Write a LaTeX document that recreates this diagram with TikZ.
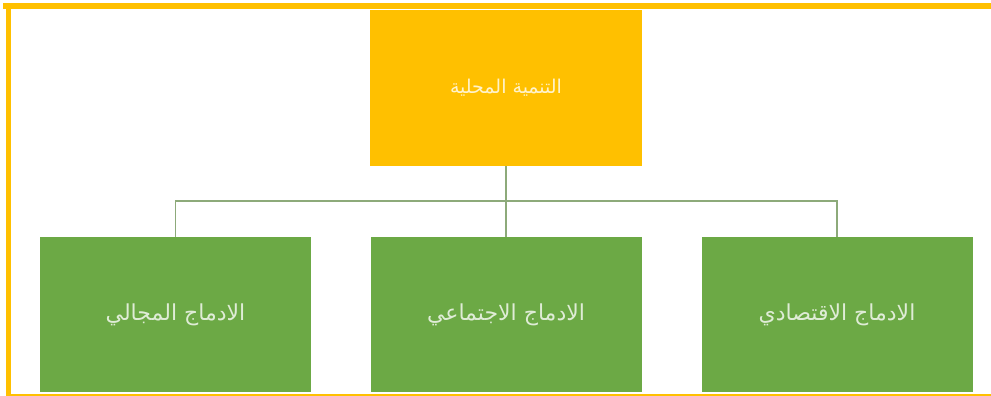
\documentclass[tikz,border=0pt]{standalone}
\usepackage{fontspec}
\newfontfamily\arabicfont[Script=Arabic]{DejaVu Sans}
\TeXXeTstate=1
\definecolor{gold}{HTML}{FFC000}
\definecolor{grn}{HTML}{6CA945}
\definecolor{conn}{HTML}{8DAA7A}
\begin{document}
\begin{tikzpicture}[x=1pt,y=-1pt,
  topbox/.style={fill=gold, draw=none, minimum width=272pt, minimum height=156pt, inner sep=0pt,
    text=white!80!gold, font=\arabicfont\fontsize{19}{22}\selectfont},
  subbox/.style={fill=grn, draw=none, minimum width=271pt, minimum height=155pt, inner sep=0pt,
    text=white!78!grn, font=\arabicfont\fontsize{22}{26}\selectfont},
  connector/.style={draw=conn, line width=1.8pt}]
\useasboundingbox (0,0) rectangle (991,396);
\fill[white] (0,0) rectangle (991,396);
% frame
\fill[gold] (3,3) rectangle (991,9);
\fill[gold] (5.5,3) rectangle (11,396);
\fill[gold] (5.5,394) rectangle (991,396);
% nodes
\node[topbox] (top) at (506,88) {\beginR التنمية المحلية\endR};
\node[subbox] (b1) at (175.5,314.5) {\beginR الادماج المجالي\endR};
\node[subbox] (b2) at (506,314.5) {\beginR الادماج الاجتماعي\endR};
\node[subbox] (b3) at (837,314.5) {\beginR الادماج الاقتصادي\endR};
\coordinate (bus) at (506,201);
% connectors
\draw[connector] (top.south) -- (b2.north);
\draw[connector] (b1.north) -- (b1.north |- bus) -- (b3.north |- bus) -- (b3.north);
\end{tikzpicture}
\end{document}
